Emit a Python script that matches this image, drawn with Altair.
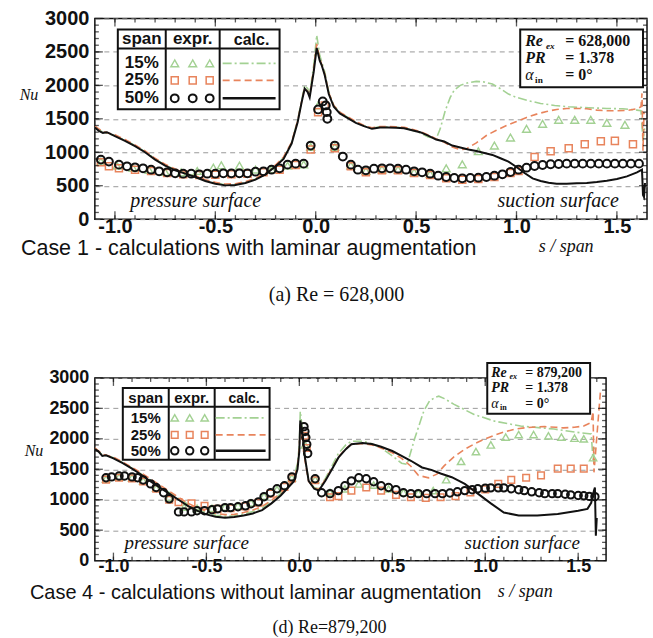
import altair as alt
import pandas as pd

# ---------------------------------------------------------------
# Case 1 - calculations with laminar augmentation (Re = 628,000)
# pairs of (s / span, Nu)
# ---------------------------------------------------------------
c1_calc50 = [(-1.10,1370),(-1.08,1320),(-1.06,1290),(-1.04,1300),(-1.00,1240),(-0.95,1170),(-0.90,1090),
             (-0.85,1000),(-0.80,890),(-0.75,800),(-0.70,730),(-0.65,680),(-0.60,630),(-0.55,570),(-0.50,530),
             (-0.45,505),(-0.40,510),(-0.35,540),(-0.30,590),(-0.25,670),(-0.20,790),(-0.16,900),(-0.12,1130),
             (-0.09,1450),(-0.07,1750),(-0.055,1950),(-0.04,1900),(-0.03,1820),(-0.01,2200),(0.005,2560),
             (0.02,2370),(0.03,2300),(0.045,2150),(0.065,1870),(0.09,1680),(0.12,1580),(0.16,1510),(0.20,1440),
             (0.24,1390),(0.28,1350),(0.32,1370),(0.36,1370),(0.40,1365),(0.44,1360),(0.48,1330),(0.52,1300),
             (0.56,1250),(0.60,1190),(0.64,1160),(0.68,1100),(0.72,1070),(0.76,1040),(0.80,1020),(0.84,990),
             (0.88,960),(0.92,910),(0.96,860),(1.00,780),(1.04,690),(1.08,610),(1.12,570),(1.16,545),(1.20,530),
             (1.25,530),(1.30,535),(1.35,540),(1.40,555),(1.45,575),(1.50,600),(1.55,640),(1.60,700),(1.625,740),
             (1.63,360),(1.635,330),(1.64,540)]

c1_calc25 = [(-1.10,1390),(-1.06,1310),(-1.00,1260),(-0.95,1190),(-0.90,1110),(-0.85,1020),(-0.80,910),
             (-0.75,820),(-0.70,750),(-0.65,700),(-0.60,650),(-0.55,590),(-0.50,550),(-0.45,525),(-0.40,530),
             (-0.35,560),(-0.30,610),(-0.25,690),(-0.20,810),(-0.16,930),(-0.12,1150),(-0.09,1470),(-0.07,1760),
             (-0.055,1960),(-0.04,1910),(-0.03,1840),(-0.01,2250),(0.005,2620),(0.02,2400),(0.045,2170),
             (0.065,1890),(0.09,1700),(0.12,1600),(0.16,1530),(0.20,1460),(0.24,1400),(0.28,1365),(0.32,1385),
             (0.36,1385),(0.40,1380),(0.44,1375),(0.48,1345),(0.52,1310),(0.56,1260),(0.60,1200),(0.64,1150),
             (0.68,1080),(0.72,1040),(0.75,1050),(0.80,1140),(0.85,1250),(0.90,1330),(0.95,1400),(1.00,1460),
             (1.05,1520),(1.10,1570),(1.15,1610),(1.20,1640),(1.25,1655),(1.30,1655),(1.35,1650),(1.40,1630),
             (1.45,1620),(1.50,1620),(1.55,1625),(1.60,1650),(1.62,1680),(1.625,1880),(1.63,1020),(1.635,1600)]

c1_calc15 = [(-1.10,1380),(-1.06,1300),(-1.00,1250),(-0.95,1180),(-0.90,1100),(-0.85,1010),(-0.80,900),
             (-0.75,810),(-0.70,740),(-0.65,690),(-0.60,640),(-0.55,580),(-0.50,540),(-0.45,515),(-0.40,520),
             (-0.35,550),(-0.30,600),(-0.25,680),(-0.20,800),(-0.16,920),(-0.12,1140),(-0.09,1480),(-0.07,1780),
             (-0.055,2000),(-0.04,1950),(-0.03,1870),(-0.01,2300),(0.005,2750),(0.02,2450),(0.045,2200),
             (0.065,1900),(0.09,1700),(0.12,1600),(0.16,1520),(0.20,1450),(0.24,1395),(0.28,1360),(0.32,1380),
             (0.36,1380),(0.40,1375),(0.44,1365),(0.48,1330),(0.52,1290),(0.56,1230),(0.60,1200),(0.62,1350),
             (0.645,1620),(0.67,1820),(0.69,1930),(0.72,2000),(0.76,2040),(0.80,2060),(0.84,2050),(0.88,2020),
             (0.92,1950),(0.96,1870),(1.00,1820),(1.06,1770),(1.12,1730),(1.19,1700),(1.26,1680),(1.36,1665),
             (1.45,1655),(1.53,1650),(1.60,1630),(1.62,1620),(1.63,1170),(1.64,1400)]

c1_exp50 = [(-1.07,890),(-1.03,860),(-0.98,815),(-0.94,790),(-0.90,775),(-0.86,760),(-0.82,740),(-0.78,715),
            (-0.74,700),(-0.70,685),(-0.66,680),(-0.62,680),(-0.58,670),(-0.54,680),(-0.50,680),(-0.46,685),
            (-0.42,685),(-0.38,685),(-0.34,685),(-0.30,710),(-0.26,715),(-0.22,740),(-0.18,760),(-0.14,815),
            (-0.10,830),(-0.06,830),(-0.025,1100),(0.012,1640),(0.035,1760),(0.05,1700),(0.055,1600),
            (0.058,1500),(0.095,1100),(0.135,935),(0.175,815),(0.21,740),(0.25,730),(0.29,755),(0.33,760),
            (0.37,760),(0.41,755),(0.45,740),(0.49,715),(0.53,700),(0.57,680),(0.61,650),(0.65,630),(0.69,615),
            (0.73,610),(0.77,615),(0.81,620),(0.85,630),(0.89,650),(0.93,670),(0.97,705),(1.01,740),(1.05,770),
            (1.09,795),(1.13,810),(1.17,820),(1.21,825),(1.25,830),(1.29,830),(1.33,830),(1.37,830),(1.41,830),
            (1.45,830),(1.49,830),(1.53,830),(1.57,830),(1.61,830)]

c1_exp25 = [(-1.07,850),(-1.03,790),(-0.98,760),(-0.90,740),(-0.82,720),(-0.74,690),(-0.66,670),(-0.58,660),
            (-0.50,665),(-0.42,670),(-0.34,680),(-0.26,700),(-0.18,740),(-0.10,810),(-0.025,1040),(0.012,1600),
            (0.045,1700),(0.095,1060),(0.175,790),(0.25,700),(0.33,730),(0.41,730),(0.49,690),(0.57,660),
            (0.65,610),(0.73,590),(0.81,600),(0.89,630),(0.97,690),(1.01,720),(1.09,930),(1.17,1015),
            (1.26,1060),(1.34,1120),(1.42,1165),(1.49,1170),(1.58,1120)]

c1_exp15 = [(-1.07,860),(-0.99,800),(-0.91,765),(-0.83,735),(-0.75,705),(-0.67,700),(-0.59,720),(-0.51,770),
            (-0.47,805),(-0.38,800),(-0.30,740),(-0.22,745),(-0.14,800),(-0.06,820),(-0.025,1080),(0.012,1700),
            (0.095,1080),(0.175,800),(0.25,720),(0.33,745),(0.41,740),(0.49,700),(0.57,675),(0.65,760),
            (0.73,820),(0.81,1015),(0.89,1100),(0.97,1220),(1.05,1350),(1.13,1425),(1.21,1485),(1.29,1485),
            (1.37,1485),(1.45,1440),(1.54,1410)]

# ---------------------------------------------------------------
# Case 4 - calculations without laminar augmentation (Re = 879,200)
# ---------------------------------------------------------------
c4_calc50 = [(-1.10,1830),(-1.08,1790),(-1.06,1720),(-1.04,1730),(-1.00,1680),(-0.95,1600),(-0.90,1510),
             (-0.85,1410),(-0.80,1300),(-0.75,1200),(-0.70,1100),(-0.65,1000),(-0.60,900),(-0.55,820),
             (-0.50,760),(-0.45,720),(-0.40,705),(-0.35,715),(-0.30,740),(-0.25,775),(-0.20,830),(-0.15,940),
             (-0.10,1070),(-0.06,1200),(-0.03,1300),(-0.01,1500),(0.0,1800),(0.005,2300),(0.015,2150),
             (0.03,1700),(0.05,1310),(0.08,1180),(0.105,1150),(0.14,1310),(0.18,1525),(0.21,1690),(0.25,1830),
             (0.28,1910),(0.34,1930),(0.39,1915),(0.44,1870),(0.50,1800),(0.55,1720),(0.60,1640),(0.66,1530),
             (0.71,1490),(0.76,1430),(0.82,1370),(0.89,1260),(0.96,1100),(1.03,940),(1.10,790),(1.18,740),
             (1.28,740),(1.39,765),(1.50,820),(1.55,850),(1.57,950),(1.585,1150),(1.59,1200),(1.595,410),
             (1.60,700)]

c4_calc25 = [(-1.10,1850),(-1.06,1750),(-1.00,1700),(-0.95,1620),(-0.90,1530),(-0.85,1440),(-0.80,1340),
             (-0.75,1240),(-0.70,1140),(-0.65,1040),(-0.60,945),(-0.55,870),(-0.50,810),(-0.45,775),(-0.40,755),
             (-0.35,760),(-0.30,790),(-0.25,830),(-0.20,890),(-0.15,990),(-0.10,1110),(-0.06,1230),(-0.03,1330),
             (-0.01,1550),(0.0,1850),(0.005,2250),(0.015,2100),(0.03,1650),(0.05,1300),(0.08,1190),(0.105,1170),
             (0.14,1330),(0.18,1540),(0.21,1700),(0.25,1840),(0.28,1910),(0.34,1920),(0.39,1900),(0.44,1850),
             (0.50,1770),(0.55,1680),(0.60,1550),(0.64,1400),(0.695,1360),(0.74,1420),(0.78,1560),(0.83,1700),
             (0.89,1830),(0.95,1930),(1.00,2000),(1.05,2060),(1.10,2110),(1.16,2160),(1.21,2180),(1.27,2195),
             (1.32,2200),(1.38,2190),(1.42,2180),(1.48,2190),(1.53,2210),(1.57,2270),(1.58,2450),(1.585,1450),
             (1.59,1640),(1.62,2790)]

c4_calc15 = [(-1.10,1840),(-1.06,1740),(-1.00,1690),(-0.95,1610),(-0.90,1520),(-0.85,1420),(-0.80,1320),
             (-0.75,1220),(-0.70,1120),(-0.65,1020),(-0.60,925),(-0.55,845),(-0.50,785),(-0.45,745),(-0.40,728),
             (-0.35,738),(-0.30,765),(-0.25,805),(-0.20,860),(-0.15,970),(-0.10,1100),(-0.06,1250),(-0.03,1350),
             (-0.01,1600),(0.0,1900),(0.005,2450),(0.015,2200),(0.03,1680),(0.05,1320),(0.08,1200),(0.105,1180),
             (0.14,1350),(0.18,1580),(0.21,1760),(0.25,1900),(0.28,1960),(0.34,1960),(0.39,1920),(0.44,1850),
             (0.50,1720),(0.55,1600),(0.58,1580),(0.62,2000),(0.67,2460),(0.70,2620),(0.73,2680),(0.75,2700),
             (0.78,2660),(0.83,2570),(0.94,2400),(1.05,2290),(1.19,2210),(1.37,2160),(1.51,2100),(1.57,2080),
             (1.58,1650),(1.59,1900)]

c4_exp50 = [(-1.04,1360),(-1.01,1375),(-0.97,1390),(-0.94,1390),(-0.90,1375),(-0.87,1360),(-0.84,1325),
            (-0.80,1260),(-0.77,1200),(-0.73,1115),(-0.70,1015),(-0.65,800),(-0.62,800),(-0.58,800),(-0.55,820),
            (-0.51,820),(-0.47,835),(-0.44,850),(-0.40,870),(-0.37,870),(-0.33,885),(-0.29,900),(-0.26,935),
            (-0.22,965),(-0.19,1050),(-0.155,1115),(-0.12,1180),(-0.08,1230),(-0.04,1375),(0.025,2200),
            (0.03,2120),(0.035,2020),(0.04,1910),(0.045,1760),(0.085,1345),(0.12,1115),(0.165,1100),(0.21,1150),
            (0.245,1230),(0.28,1310),(0.32,1360),(0.36,1345),(0.40,1295),(0.44,1230),(0.48,1200),(0.52,1165),
            (0.56,1115),(0.60,1100),(0.64,1100),(0.685,1100),(0.73,1100),(0.77,1100),(0.81,1110),(0.85,1130),
            (0.89,1150),(0.93,1165),(0.96,1180),(1.00,1190),(1.03,1195),(1.07,1195),(1.10,1195),(1.14,1180),
            (1.18,1165),(1.21,1150),(1.25,1130),(1.29,1115),(1.32,1100),(1.36,1100),(1.39,1100),(1.43,1090),
            (1.46,1080),(1.50,1070),(1.53,1065),(1.56,1055),(1.59,1050)]

c4_exp25 = [(-1.04,1330),(-0.97,1360),(-0.90,1350),(-0.84,1300),(-0.77,1180),(-0.70,1000),(-0.65,960),
            (-0.58,940),(-0.51,900),(-0.44,850),(-0.37,860),(-0.29,890),(-0.22,950),(-0.155,1100),(-0.08,1210),
            (-0.04,1350),(0.03,2050),(0.04,1850),(0.085,1320),(0.165,1040),(0.21,1060),(0.28,1150),(0.36,1200),
            (0.44,1150),(0.52,1080),(0.60,1040),(0.68,1030),(0.76,1040),(0.84,1060),(0.92,1120),(1.00,1170),
            (1.07,1260),(1.14,1325),(1.22,1360),(1.30,1400),(1.39,1510),(1.46,1510),(1.53,1510)]

c4_exp15 = [(-1.04,1340),(-0.97,1370),(-0.90,1360),(-0.84,1310),(-0.77,1190),(-0.70,1040),(-0.62,880),
            (-0.55,860),(-0.47,860),(-0.40,880),(-0.33,900),(-0.26,950),(-0.19,1060),(-0.12,1170),(-0.04,1360),
            (0.03,1900),(0.085,1330),(0.165,1120),(0.245,1180),(0.32,1260),(0.40,1240),(0.48,1180),(0.56,1120),
            (0.64,1110),(0.72,1150),(0.79,1330),(0.87,1630),(0.95,1790),(1.03,1900),(1.11,2030),(1.18,2070),
            (1.26,2070),(1.34,2050),(1.41,2030),(1.48,2010),(1.53,2000),(1.58,1690)]

# axis ranges and tick positions
X_DOMAIN = [-1.1, 1.65]
Y_DOMAIN = [0, 3000]
X_LABELS = [-1.0, -0.5, 0.0, 0.5, 1.0, 1.5]
Y_LABELS = [0, 500, 1000, 1500, 2000, 2500, 3000]
X_MINOR = [i / 10 for i in range(-10, 17)]
Y_MINOR = list(range(100, 3000, 100))

# colours / fonts
BLACK = "#111111"
ORANGE = "#e8845c"
GREEN = "#a3d193"
SANS = "Liberation Sans"
SERIF = "Liberation Serif"

ONE = pd.DataFrame({"k": [0]})


def df(pairs):
    return pd.DataFrame(pairs, columns=["s", "Nu"])


def text(t, x, y, size, font=SANS, weight="normal", style="normal", align="center", baseline="middle"):
    return alt.Chart(ONE).mark_text(
        text=t, font=font, fontSize=size, fontWeight=weight, fontStyle=style,
        align=align, baseline=baseline, color=BLACK,
    ).encode(x=alt.value(x), y=alt.value(y))


def seg(x1, y1, x2, y2, color=BLACK, width=2.0, dash=None):
    kw = dict(color=color, strokeWidth=width)
    if dash:
        kw["strokeDash"] = dash
    return alt.Chart(ONE).mark_rule(**kw).encode(
        x=alt.value(x1), y=alt.value(y1), x2=alt.value(x2), y2=alt.value(y2))


def box(x1, y1, x2, y2):
    return alt.Chart(ONE).mark_rect(fill="white", stroke=BLACK, strokeWidth=2).encode(
        x=alt.value(x1), y=alt.value(y1), x2=alt.value(x2), y2=alt.value(y2))


def sym(shape, color, size, sw, x, y):
    return alt.Chart(ONE).mark_point(shape=shape, filled=False, color=color, size=size,
                                     strokeWidth=sw, opacity=1).encode(x=alt.value(x), y=alt.value(y))


def panel(c):
    W, H = c["W"], c["H"]
    xaxis = alt.Axis(
        values=X_LABELS, title=None, ticks=False, domain=False, grid=False,
        labelExpr="datum.value < 0 ? '-' + format(-datum.value, '.1f') : format(datum.value, '.1f')",
        labelFont=SANS, labelFontWeight="bold", labelFontSize=c["lab"], labelColor=BLACK,
        labelPadding=c["xpad"],
    )
    yaxis = alt.Axis(
        values=Y_LABELS, format="d", title=None, ticks=False, domain=False, grid=True,
        gridDash=[5, 4], gridColor="#9a9a9a", gridWidth=1,
        labelFont=SANS, labelFontWeight="bold", labelFontSize=c["lab"], labelColor=BLACK,
        labelPadding=6,
    )
    X = alt.X("s:Q", scale=alt.Scale(domain=X_DOMAIN, nice=False, zero=False), axis=xaxis)
    Y = alt.Y("Nu:Q", scale=alt.Scale(domain=Y_DOMAIN, nice=False, zero=False), axis=yaxis)

    def line(pairs, color, width, dash=None):
        kw = dict(color=color, strokeWidth=width, clip=True)
        if dash:
            kw["strokeDash"] = dash
        return alt.Chart(df(pairs)).mark_line(**kw).encode(x=X, y=Y, order="s:Q")

    def pts(pairs, shape, color, size, sw):
        return alt.Chart(df(pairs)).mark_point(shape=shape, filled=False, color=color, size=size,
                                               strokeWidth=sw, opacity=1, clip=True).encode(x=X, y=Y)

    layers = [
        line(c["calc15"], GREEN, 1.6, [9, 3, 2, 3]),
        line(c["calc25"], ORANGE, 1.6, [7, 4]),
        pts(c["exp15"], "triangle-up", GREEN, c["msize"], 1.4),
        pts(c["exp25"], "square", ORANGE, c["msize"] * 0.8, 1.5),
        pts(c["exp50"], "circle", BLACK, c["msize"], 2.0),
        line(c["calc50"], BLACK, 2.0),
    ]

    # inward ticks on all four sides of the frame
    xt_major = pd.DataFrame({"s": X_LABELS})
    xt_minor = pd.DataFrame({"s": X_MINOR})
    yt_major = pd.DataFrame({"Nu": Y_LABELS})
    yt_minor = pd.DataFrame({"Nu": Y_MINOR})
    for d, ln in ((xt_major, 8), (xt_minor, 4)):
        for ypos in (H - ln / 2, ln / 2):
            layers.append(alt.Chart(d).mark_tick(orient="vertical", size=ln, thickness=1.3, color=BLACK)
                          .encode(x=X, y=alt.value(ypos)))
    for d, ln in ((yt_major, 8), (yt_minor, 4)):
        for xpos in (ln / 2, W - ln / 2):
            layers.append(alt.Chart(d).mark_tick(orient="horizontal", size=ln, thickness=1.3, color=BLACK)
                          .encode(y=Y, x=alt.value(xpos)))

    # legend table
    L = c["leg"]
    x1, y1, x2, y2 = L["box"]
    ca, cb = L["cols"]
    fs = L["fs"]
    layers += [
        box(x1, y1, x2, y2),
        seg(ca, y1, ca, y2), seg(cb, y1, cb, y2), seg(x1, L["hline"], x2, L["hline"]),
        text("span", (x1 + ca) / 2, L["head"], fs, weight="bold"),
        text("expr.", (ca + cb) / 2, L["head"], fs, weight="bold"),
        text("calc.", (cb + x2) / 2 + 2, L["head"] + 1, fs - 1, weight="bold"),
    ]
    rows = [("15%", "triangle-up", GREEN, 1.4, [9, 3, 2, 3], 1.6),
            ("25%", "square", ORANGE, 1.5, [7, 4], 1.6),
            ("50%", "circle", BLACK, 2.0, None, 2.5)]
    for (lab, shape, col, sw, dash, lw), ry in zip(rows, L["rows"]):
        layers.append(text(lab, (x1 + ca) / 2, ry, fs, weight="bold"))
        for sx in L["symx"]:
            sz = c["msize"] * (0.8 if shape == "square" else 1.0)
            layers.append(sym(shape, col, sz, sw, sx, ry))
        layers.append(seg(L["line"][0], ry, L["line"][1], ry, color=col, width=lw, dash=dash))

    # flow-condition box
    B = c["info"]
    bx1, by1, bx2, by2 = B["box"]
    tx, ex, rows_y, f = B["tx"], B["eq"], B["rows"], B["fs"]
    layers += [
        box(bx1, by1, bx2, by2),
        text("Re", tx, rows_y[0], f, font=SERIF, weight="bold", style="italic", align="left"),
        text("ex", tx + f * 1.3, rows_y[0] + f * 0.28, f * 0.58, font=SERIF, weight="bold",
             style="italic", align="left"),
        text("= " + B["re"], ex, rows_y[0], f, font=SERIF, weight="bold", align="left"),
        text("PR", tx, rows_y[1], f, font=SERIF, weight="bold", style="italic", align="left"),
        text("= 1.378", ex, rows_y[1], f, font=SERIF, weight="bold", align="left"),
        text("\u03b1", tx, rows_y[2], f, font=SERIF, style="italic", align="left"),
        text("in", tx + f * 0.62, rows_y[2] + f * 0.28, f * 0.58, font=SERIF, weight="bold", align="left"),
        text("= 0\u00b0", ex, rows_y[2], f, font=SERIF, weight="bold", align="left"),
    ]

    # annotations and captions
    A = c["ann"]
    layers += [
        text("pressure surface", A["ps"][0], A["ps"][1], A["sfs"], font=SERIF, style="italic"),
        text("suction surface", A["ss"][0], A["ss"][1], A["sfs"], font=SERIF, style="italic"),
        text("Nu", A["nu"][0], A["nu"][1], 16, font=SERIF, style="italic"),
        text("s / span", A["xt"][0], A["xt"][1], 18, font=SERIF, style="italic"),
        text(A["case"], A["cx"][0], A["cx"][1], A["cfs"], align="left"),
        text(A["cap"], A["cap_xy"][0], A["cap_xy"][1], A["capfs"], font=SERIF),
    ]
    return alt.layer(*layers).properties(width=W, height=H)


top = panel(dict(
    W=553, H=201, lab=20, xpad=-3, msize=62,
    calc15=c1_calc15, calc25=c1_calc25, calc50=c1_calc50,
    exp15=c1_exp15, exp25=c1_exp25, exp50=c1_exp50,
    leg=dict(box=(23, 11, 185, 91), cols=(71, 125), hline=30, head=21, rows=(45, 62, 80),
             symx=(80, 98, 115), line=(128, 181), fs=17),
    info=dict(box=(426, 11, 549, 69), tx=431, eq=471, rows=(23, 40, 57), fs=16, re="628,000"),
    ann=dict(ps=(101, 183), ss=(464, 183), sfs=20, nu=(-66, 77), xt=(472, 229),
             case="Case 1 - calculations with laminar augmentation", cx=(-74, 231), cfs=21.5,
             cap="(a) Re = 628,000", cap_xy=(242, 277), capfs=20),
))

bottom = panel(dict(
    W=512, H=183, lab=18, xpad=-3, msize=55,
    calc15=c4_calc15, calc25=c4_calc25, calc50=c4_calc50,
    exp15=c4_exp15, exp25=c4_exp25, exp50=c4_exp50,
    leg=dict(box=(28, 10, 175, 82), cols=(74, 120), hline=29, head=20, rows=(40, 57, 73),
             symx=(80, 95, 110), line=(121, 171), fs=15),
    info=dict(box=(393, -15, 496, 36), tx=397, eq=431, rows=(-5, 10, 26), fs=14, re="879,200"),
    ann=dict(ps=(92, 165), ss=(428, 165), sfs=19, nu=(-61, 73), xt=(431, 214),
             case="Case 4 - calculations without laminar augmentation", cx=(-65, 215), cfs=20,
             cap="(d) Re=879,200", cap_xy=(235, 250), capfs=18),
))

chart = (
    alt.vconcat(top, bottom, spacing=159, bounds="flush")
    .properties(padding={"left": 18, "top": 7, "right": 5, "bottom": 5})
    .configure_view(stroke=BLACK, strokeWidth=1.5)
)

chart.save("out.html", embed_options={"renderer": "svg", "actions": False})
